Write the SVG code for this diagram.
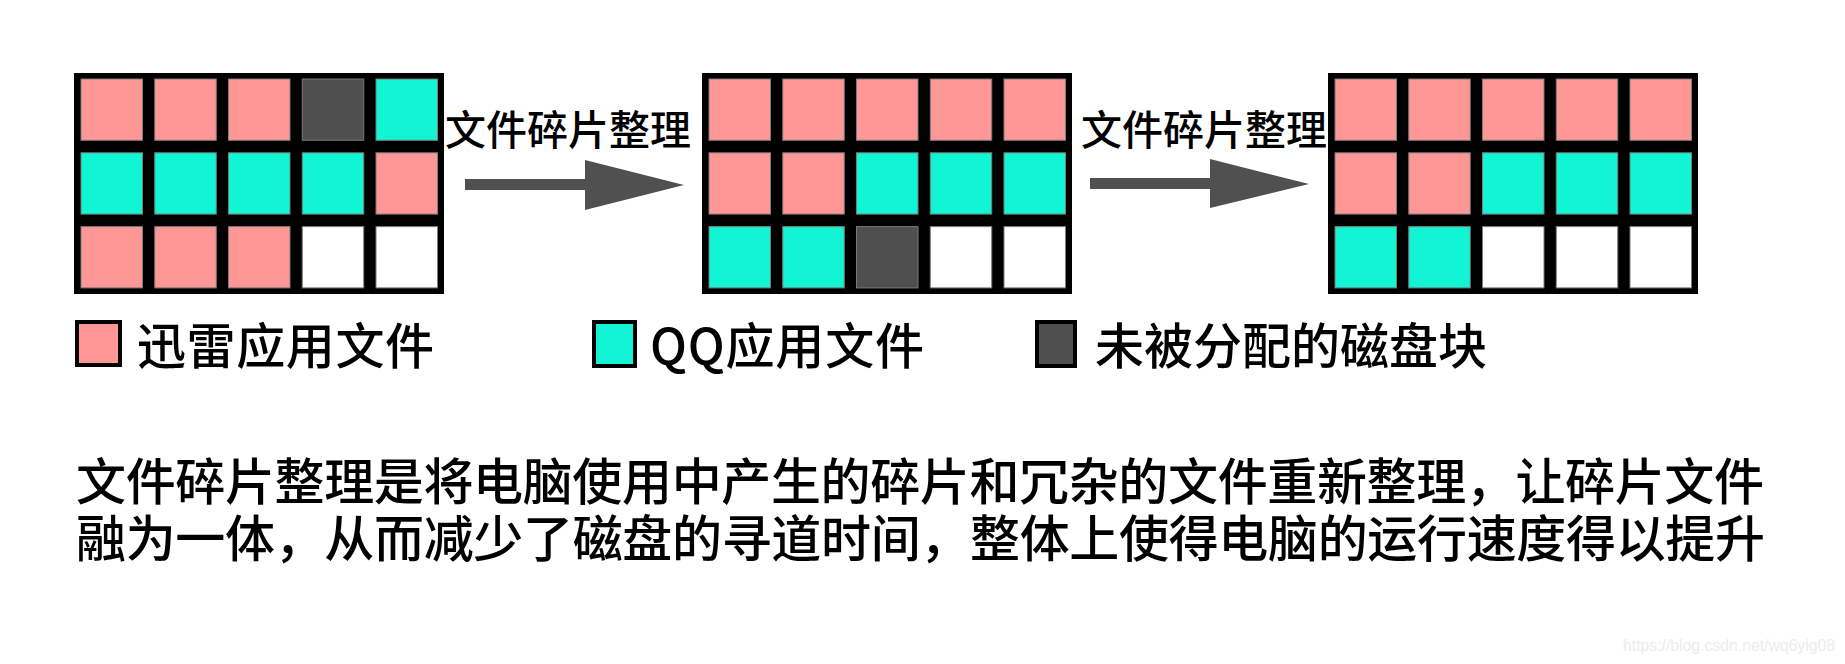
<svg xmlns="http://www.w3.org/2000/svg" width="1845" height="664" viewBox="0 0 1845 664">
<style>
.frame{fill:#000}
.c{stroke:#7a7a7a;stroke-width:1}
.p{fill:#ff9797}
.q{fill:#11f5d4}
.d{fill:#4f4f4f}
.w{fill:#fff}
.arrow{fill:#505050}
.t{font-family:"Noto Sans CJK SC","Noto Sans",sans-serif;fill:#000;font-weight:500}
.lg{stroke:#000;stroke-width:4}
</style>
<rect width="1845" height="664" fill="#fff"/>
<g id="grid-before" transform="translate(74,73)">
<rect class="frame" width="370" height="221"/>
<rect class="c p" x="7" y="6" width="61.5" height="61.3"/>
<rect class="c p" x="80.75" y="6" width="61.5" height="61.3"/>
<rect class="c p" x="154.5" y="6" width="61.5" height="61.3"/>
<rect class="c d" x="228.25" y="6" width="61.5" height="61.3"/>
<rect class="c q" x="302" y="6" width="61.5" height="61.3"/>
<rect class="c q" x="7" y="79.8" width="61.5" height="61.3"/>
<rect class="c q" x="80.75" y="79.8" width="61.5" height="61.3"/>
<rect class="c q" x="154.5" y="79.8" width="61.5" height="61.3"/>
<rect class="c q" x="228.25" y="79.8" width="61.5" height="61.3"/>
<rect class="c p" x="302" y="79.8" width="61.5" height="61.3"/>
<rect class="c p" x="7" y="153.6" width="61.5" height="61.3"/>
<rect class="c p" x="80.75" y="153.6" width="61.5" height="61.3"/>
<rect class="c p" x="154.5" y="153.6" width="61.5" height="61.3"/>
<rect class="c w" x="228.25" y="153.6" width="61.5" height="61.3"/>
<rect class="c w" x="302" y="153.6" width="61.5" height="61.3"/>
</g>
<g id="grid-middle" transform="translate(702,73)">
<rect class="frame" width="370" height="221"/>
<rect class="c p" x="7" y="6" width="61.5" height="61.3"/>
<rect class="c p" x="80.75" y="6" width="61.5" height="61.3"/>
<rect class="c p" x="154.5" y="6" width="61.5" height="61.3"/>
<rect class="c p" x="228.25" y="6" width="61.5" height="61.3"/>
<rect class="c p" x="302" y="6" width="61.5" height="61.3"/>
<rect class="c p" x="7" y="79.8" width="61.5" height="61.3"/>
<rect class="c p" x="80.75" y="79.8" width="61.5" height="61.3"/>
<rect class="c q" x="154.5" y="79.8" width="61.5" height="61.3"/>
<rect class="c q" x="228.25" y="79.8" width="61.5" height="61.3"/>
<rect class="c q" x="302" y="79.8" width="61.5" height="61.3"/>
<rect class="c q" x="7" y="153.6" width="61.5" height="61.3"/>
<rect class="c q" x="80.75" y="153.6" width="61.5" height="61.3"/>
<rect class="c d" x="154.5" y="153.6" width="61.5" height="61.3"/>
<rect class="c w" x="228.25" y="153.6" width="61.5" height="61.3"/>
<rect class="c w" x="302" y="153.6" width="61.5" height="61.3"/>
</g>
<g id="grid-after" transform="translate(1328,73)">
<rect class="frame" width="370" height="221"/>
<rect class="c p" x="7" y="6" width="61.5" height="61.3"/>
<rect class="c p" x="80.75" y="6" width="61.5" height="61.3"/>
<rect class="c p" x="154.5" y="6" width="61.5" height="61.3"/>
<rect class="c p" x="228.25" y="6" width="61.5" height="61.3"/>
<rect class="c p" x="302" y="6" width="61.5" height="61.3"/>
<rect class="c p" x="7" y="79.8" width="61.5" height="61.3"/>
<rect class="c p" x="80.75" y="79.8" width="61.5" height="61.3"/>
<rect class="c q" x="154.5" y="79.8" width="61.5" height="61.3"/>
<rect class="c q" x="228.25" y="79.8" width="61.5" height="61.3"/>
<rect class="c q" x="302" y="79.8" width="61.5" height="61.3"/>
<rect class="c q" x="7" y="153.6" width="61.5" height="61.3"/>
<rect class="c q" x="80.75" y="153.6" width="61.5" height="61.3"/>
<rect class="c w" x="154.5" y="153.6" width="61.5" height="61.3"/>
<rect class="c w" x="228.25" y="153.6" width="61.5" height="61.3"/>
<rect class="c w" x="302" y="153.6" width="61.5" height="61.3"/>
</g>
<g id="connectors">
<path class="arrow" d="M465,179 L585,179 L585,160 L684,185 L585,210 L585,190 L465,190 Z"/>
<path class="arrow" d="M1090,178 L1210,178 L1210,159 L1309,184 L1210,208 L1210,189 L1090,189 Z"/>
<text class="t" x="445" y="145" font-size="41" textLength="246" lengthAdjust="spacing">文件碎片整理</text>
<text class="t" x="1081" y="145" font-size="41" textLength="246" lengthAdjust="spacing">文件碎片整理</text>
</g>
<g id="legend-xunlei">
<rect class="lg p" x="77" y="322" width="43" height="43"/>
<text class="t" x="137" y="364" font-size="49" textLength="297" lengthAdjust="spacing">迅雷应用文件</text>
</g>
<g id="legend-qq">
<rect class="lg q" x="594" y="322" width="41" height="44"/>
<text class="t" x="650" y="364" font-size="49" textLength="274" lengthAdjust="spacing">QQ应用文件</text>
</g>
<g id="legend-free">
<rect class="lg d" x="1037" y="322" width="38" height="44"/>
<text class="t" x="1095" y="364" font-size="49" textLength="392" lengthAdjust="spacing">未被分配的磁盘块</text>
</g>
<g id="description">
<text class="t" x="76" y="500" font-size="50" textLength="1688" lengthAdjust="spacing">文件碎片整理是将电脑使用中产生的碎片和冗杂的文件重新整理，让碎片文件</text>
<text class="t" x="76" y="557" font-size="50" textLength="1689" lengthAdjust="spacing">融为一体，从而减少了磁盘的寻道时间，整体上使得电脑的运行速度得以提升</text>
</g>
<text x="1623" y="651" font-family="Liberation Sans, Arial, sans-serif" font-size="16" fill="#ececec" textLength="212" lengthAdjust="spacingAndGlyphs">https://blog.csdn.net/wq6ylg08</text>
</svg>
